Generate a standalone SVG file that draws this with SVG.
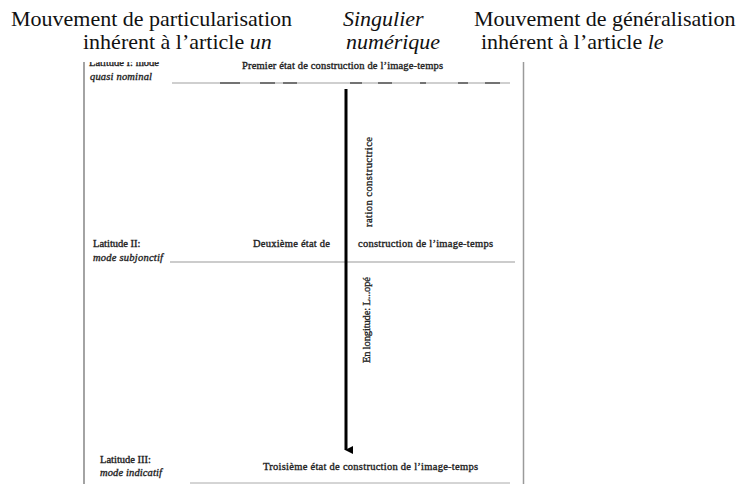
<svg xmlns="http://www.w3.org/2000/svg" width="744" height="484" viewBox="0 0 744 484">
<defs>
<style>
.hd{font-family:"Liberation Serif","Times New Roman",serif;font-size:22px;fill:#111}
.it{font-style:italic}
.sm{font-family:"Liberation Serif","Times New Roman",serif;font-size:10.5px;fill:#222;stroke:#222;stroke-width:0.35}
.gl{stroke:#9a9a9a;fill:none}
</style>
<marker id="ah" markerWidth="8" markerHeight="8" refX="4" refY="7" orient="auto" markerUnits="userSpaceOnUse">
<path d="M0,0 L8,0 L4,8 Z" fill="#000"/>
</marker>
<clipPath id="topclip"><rect x="0" y="62" width="744" height="422"/></clipPath>
</defs>
<rect width="744" height="484" fill="#fff"/>

<g id="header">
<text class="hd" x="11" y="26">Mouvement de particularisation</text>
<text class="hd it" x="343" y="26">Singulier</text>
<text class="hd" x="474" y="26">Mouvement de généralisation</text>
<text class="hd" x="83" y="49">inhérent à l’article <tspan class="it">un</tspan></text>
<text class="hd it" x="346" y="49">numérique</text>
<text class="hd" x="481" y="49">inhérent à l’article <tspan class="it">le</tspan></text>
</g>

<g id="frame">
<line class="gl" x1="84" y1="62" x2="84" y2="484" stroke-width="1.8"/>
<line class="gl" x1="523.5" y1="62" x2="523.5" y2="484" stroke-width="1.5"/>
</g>

<g id="connectors">
<line x1="172" y1="83" x2="510" y2="83" stroke="#a0a0a0" stroke-width="1.2"/>
<path d="M220,83 H240 M260,83 H275 M283,83 H297 M350,83 H362 M378,83 H392 M420,83 H426 M458,83 H468 M485,83 H500" stroke="#555" stroke-width="1.4"/>
<line x1="170" y1="262" x2="515" y2="262" stroke="#999" stroke-width="1"/>
<line x1="190" y1="483" x2="510" y2="483" stroke="#aaa" stroke-width="1"/>
<line x1="346" y1="89" x2="346" y2="450" stroke="#000" stroke-width="3" marker-end="url(#ah)"/>
</g>

<g id="latitude1" clip-path="url(#topclip)">
<text class="sm" x="89" y="66">Latitude I: mode</text>
<text class="sm it" x="90" y="80" textLength="62">quasi nominal</text>
</g>
<g id="state1">
<text class="sm" x="242" y="69" textLength="201">Premier état de construction de l’image-temps</text>
</g>

<g id="latitude2">
<text class="sm" x="93" y="247">Latitude II:</text>
<text class="sm it" x="93" y="261" textLength="70">mode subjonctif</text>
</g>
<g id="state2">
<text class="sm" x="253" y="247" textLength="77">Deuxième état de</text>
<text class="sm" x="358" y="247" textLength="135">construction de l’image-temps</text>
</g>

<g id="longitude">
<text class="sm" transform="translate(372,227) rotate(-90)" textLength="90">ration constructrice</text>
<text class="sm" transform="translate(370,363) rotate(-90)" textLength="86">En longitude: L...opé</text>
</g>

<g id="latitude3">
<text class="sm" x="100" y="463">Latitude III:</text>
<text class="sm it" x="100" y="476" textLength="62">mode indicatif</text>
</g>
<g id="state3">
<text class="sm" x="263" y="470" textLength="215">Troisième état de construction de l’image-temps</text>
</g>
</svg>
